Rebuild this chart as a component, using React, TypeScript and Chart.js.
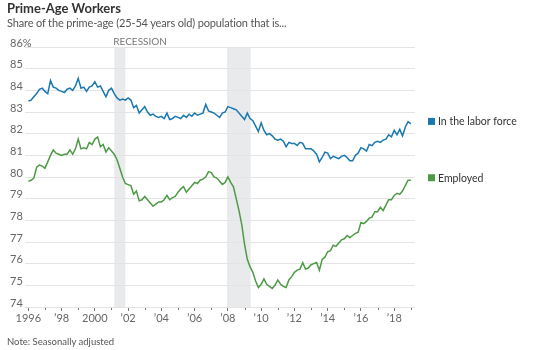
import React, { useEffect, useRef } from "react";
import { Chart, registerables } from "chart.js";

Chart.register(...registerables);

// Bi-monthly readings (Jan, Mar, May, Jul, Sep, Nov) starting January 1996
const startYear = 1996;
const stepYears = 1 / 6;

const laborForce = [
  83.5, 83.55, 83.7, 83.85, 84.05, 84.1,
  83.95, 83.85, 84.45, 84.15, 84.1, 84.0,
  83.95, 83.9, 84.05, 84.1, 84.0, 84.2,
  84.55, 84.1, 84.15, 83.95, 84.15, 84.2,
  84.4, 84.15, 84.2, 83.95, 83.7, 84.0,
  84.1, 83.85, 83.65, 83.55, 83.6, 83.55,
  83.65, 83.55, 83.2, 83.3, 82.95, 83.1,
  83.25, 83.0, 82.85, 82.9, 82.8, 82.75,
  82.8, 82.7, 82.95, 82.65, 82.7, 82.8,
  82.75, 82.7, 82.85, 82.75, 82.9, 82.8,
  82.95, 82.85, 82.9, 82.95, 83.35, 83.05,
  83.0, 82.95, 82.85, 82.75, 82.95, 83.0,
  83.25, 83.2, 83.15, 83.1, 82.95, 82.8,
  82.65, 82.95, 82.7, 82.6, 82.35, 82.1,
  82.5, 82.15, 81.95, 82.0, 81.9, 81.75,
  81.7, 81.75, 81.65, 81.4, 81.6, 81.55,
  81.55, 81.45, 81.6, 81.55, 81.3, 81.3,
  81.3, 81.2, 81.05, 80.7, 80.9, 81.15,
  81.1, 80.85, 80.95, 80.9, 80.85, 80.95,
  81.0, 80.9, 80.75, 80.75, 81.0, 81.1,
  81.35, 81.3, 81.2, 81.5, 81.45, 81.6,
  81.65, 81.6, 81.7, 81.75, 81.95, 81.85,
  82.15, 81.95, 82.2, 81.9, 82.3, 82.55,
  82.45,
];

const employed = [
  79.8, 79.85, 79.95, 80.45, 80.55, 80.5,
  80.4, 80.7, 81.0, 81.25, 81.1, 81.05,
  81.0, 81.05, 81.05, 81.25, 81.05, 81.3,
  81.75, 81.3, 81.35, 81.3, 81.6, 81.5,
  81.75, 81.85, 81.4, 81.5, 81.15, 81.35,
  81.2, 81.05, 80.8, 80.4, 80.0, 79.7,
  79.65, 79.6, 79.2, 79.35, 78.9, 78.95,
  79.1, 78.95, 78.8, 78.65, 78.75, 78.85,
  78.85, 78.95, 79.15, 78.95, 79.05, 79.1,
  79.3, 79.45, 79.55, 79.3, 79.45, 79.6,
  79.75, 79.7, 79.85, 79.9, 80.0, 80.25,
  80.2, 80.0, 79.95, 79.8, 79.65, 79.75,
  80.0, 79.75, 79.55, 79.0, 78.45, 77.8,
  76.9, 76.2, 75.85, 75.6, 75.2, 74.9,
  75.05, 75.3, 75.05, 74.95, 74.85, 75.0,
  75.25, 75.05, 74.95, 74.9, 75.25, 75.4,
  75.6, 75.7, 75.75, 76.05, 75.75, 75.8,
  75.95, 76.0, 76.05, 75.7, 76.2, 76.3,
  76.55, 76.6, 76.85, 76.8, 76.95, 77.1,
  77.15, 77.3, 77.2, 77.3, 77.4, 77.45,
  77.9, 77.85, 77.95, 78.1, 78.15, 78.4,
  78.4, 78.6, 78.45, 78.7, 78.95, 78.95,
  79.15, 79.25, 79.2, 79.35, 79.6, 79.85,
  79.85,
];

const seriesNames = ["In the labor force", "Employed"];
const seriesColors = ["#1a78b0", "#4d9a45"];

const recessionStart = [2001.17, 2007.95];
const recessionEnd = [2001.83, 2009.37];

const xTickYears = [
  1996, 1997, 1998, 1999, 2000, 2001, 2002, 2003, 2004, 2005, 2006, 2007,
  2008, 2009, 2010, 2011, 2012, 2013, 2014, 2015, 2016, 2017, 2018, 2019,
];

const FONT = "Lato, 'Noto Sans', sans-serif";
const NARROW = "'Liberation Sans Narrow', 'Arial Narrow', Lato, sans-serif";

function toPoints(values: number[]) {
  return values.map((v, i) => ({ x: startYear + i * stepYears, y: v }));
}

function yearLabel(v: number) {
  if (v % 2 !== 0) return "";
  if (v % 100 === 0 || v === 1996) return String(v);
  return "\u2019" + String(v % 100).padStart(2, "0");
}

const recessionPlugin = {
  id: "recessionBands",
  beforeDraw(chart: any) {
    const { ctx, chartArea, scales } = chart;
    const x = scales.x;
    ctx.save();
    ctx.fillStyle = "#e9eaec";
    recessionStart.forEach((s, i) => {
      const x0 = x.getPixelForValue(s);
      const x1 = x.getPixelForValue(recessionEnd[i]);
      ctx.fillRect(x0, chartArea.top, x1 - x0, chartArea.bottom - chartArea.top);
    });
    ctx.fillStyle = "#777";
    ctx.font = `10px ${NARROW}`;
    ctx.textAlign = "left";
    ctx.textBaseline = "alphabetic";
    ctx.fillText("RECESSION", x.getPixelForValue(recessionStart[0]) - 1, chartArea.top - 2);
    ctx.restore();
  },
};

const sideLabelPlugin = {
  id: "sideLabels",
  afterDatasetsDraw(chart: any) {
    const { ctx, chartArea, scales } = chart;
    const y = scales.y;
    ctx.save();
    ctx.font = `10.5px ${FONT}`;
    ctx.textBaseline = "middle";
    ctx.textAlign = "left";
    chart.data.datasets.forEach((ds: any, i: number) => {
      const last = ds.data[ds.data.length - 1];
      const py = y.getPixelForValue(last.y) - 2;
      const px = chartArea.right + 13;
      ctx.fillStyle = seriesColors[i];
      ctx.fillRect(px, py - 4, 7, 7);
      ctx.fillStyle = "#333";
      ctx.fillText(seriesNames[i], px + 10, py);
    });
    ctx.restore();
  },
};

const minorTickPlugin = {
  id: "minorTicks",
  afterDraw(chart: any) {
    const { ctx, chartArea, scales } = chart;
    const x = scales.x;
    ctx.save();
    ctx.strokeStyle = "#777";
    ctx.lineWidth = 1;
    xTickYears.forEach((yr) => {
      if (yr % 2 === 0) return;
      const px = Math.round(x.getPixelForValue(yr)) + 0.5;
      ctx.beginPath();
      ctx.moveTo(px, chartArea.bottom + 1);
      ctx.lineTo(px, chartArea.bottom + 3);
      ctx.stroke();
    });
    ctx.restore();
  },
};

export default function App() {
  const canvasRef = useRef<HTMLCanvasElement | null>(null);

  useEffect(() => {
    if (!canvasRef.current) return;
    const chart = new Chart(canvasRef.current, {
      type: "line",
      data: {
        datasets: [
          {
            label: seriesNames[0],
            data: toPoints(laborForce),
            borderColor: seriesColors[0],
            borderWidth: 1.5,
            pointRadius: 0,
            tension: 0,
            fill: false,
          },
          {
            label: seriesNames[1],
            data: toPoints(employed),
            borderColor: seriesColors[1],
            borderWidth: 1.5,
            pointRadius: 0,
            tension: 0,
            fill: false,
          },
        ],
      },
      options: {
        animation: false,
        responsive: false,
        maintainAspectRatio: false,
        layout: { padding: { left: 9, top: 47, right: 135, bottom: 23 } },
        plugins: {
          legend: { display: false },
          tooltip: { enabled: false },
        },
        scales: {
          x: {
            type: "linear",
            min: 1995.8,
            max: 2019.25,
            afterBuildTicks: (scale: any) => {
              scale.ticks = xTickYears.map((v) => ({ value: v }));
            },
            afterFit: (scale: any) => {
              scale.height = 20;
            },
            border: { display: false },
            grid: {
              drawOnChartArea: false,
              drawTicks: true,
              tickLength: 4,
              tickColor: (c: any) =>
                c.tick && c.tick.value % 2 === 0 ? "#777" : "rgba(0,0,0,0)",
              color: "rgba(0,0,0,0)",
            },
            ticks: {
              autoSkip: false,
              maxRotation: 0,
              padding: 1,
              color: "#666",
              font: { family: NARROW, size: 11 },
              callback: (v: any) => yearLabel(Number(v)),
            },
          },
          y: {
            min: 74,
            max: 86,
            afterFit: (scale: any) => {
              scale.width = 16;
            },
            border: { display: false },
            grid: {
              color: "#e4e4e4",
              drawTicks: false,
            },
            ticks: {
              stepSize: 1,
              mirror: true,
              padding: -15,
              labelOffset: -4,
              color: "#666",
              font: { family: NARROW, size: 11 },
              callback: (v: any) => (Number(v) === 86 ? "86%" : String(v)),
            },
          },
        },
      },
      plugins: [recessionPlugin, sideLabelPlugin, minorTickPlugin],
    });
    return () => chart.destroy();
  }, []);

  return (
    <div
      style={{
        position: "fixed",
        left: 0,
        top: 0,
        width: 550,
        height: 350,
        background: "#fff",
        fontFamily: FONT,
      }}
    >
      <canvas
        ref={canvasRef}
        width={550}
        height={350}
        style={{ position: "absolute", left: 0, top: 0, width: 550, height: 350 }}
      />
      <div
        style={{
          position: "absolute",
          left: 7,
          top: 0,
          fontSize: 13,
          fontWeight: 700,
          color: "#333",
          lineHeight: "16px",
        }}
      >
        Prime-Age Workers
      </div>
      <div
        style={{
          position: "absolute",
          left: 7,
          top: 16,
          fontSize: 11,
          color: "#555",
          lineHeight: "14px",
          letterSpacing: "-0.15px",
        }}
      >
        Share of the prime-age (25-54 years old) population that is...
      </div>
      <div
        style={{
          position: "absolute",
          left: 7,
          top: 336,
          fontSize: 9.5,
          color: "#555",
          lineHeight: "12px",
        }}
      >
        Note: Seasonally adjusted
      </div>
    </div>
  );
}
